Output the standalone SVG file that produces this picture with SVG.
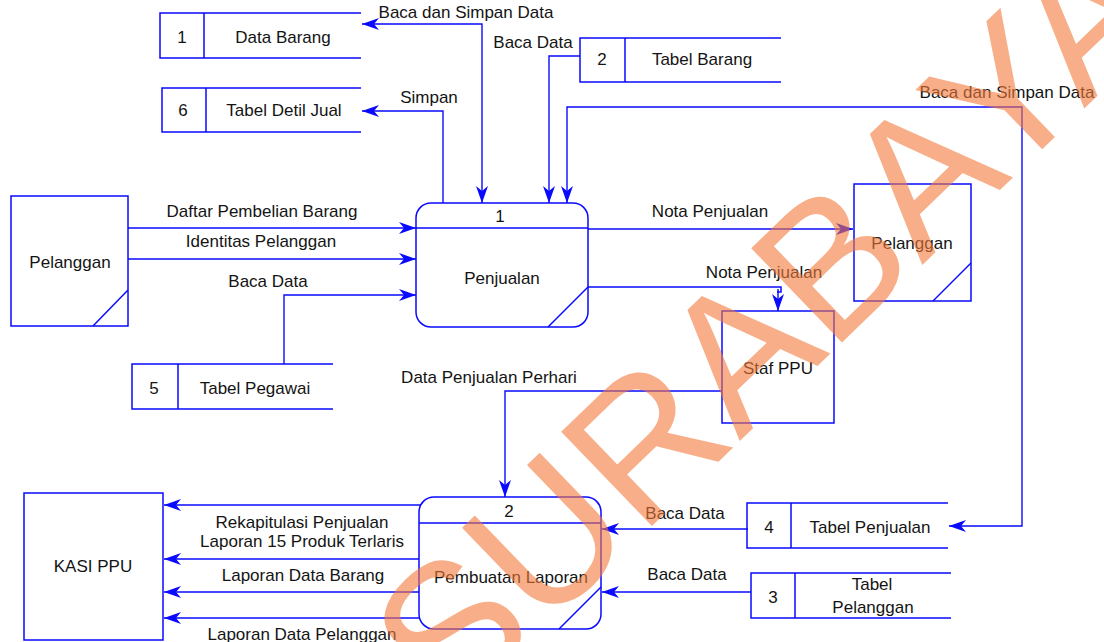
<svg xmlns="http://www.w3.org/2000/svg" width="1104" height="642" viewBox="0 0 1104 642">
  <style>
    .box { fill: #ffffff; stroke: #0a0aff; stroke-width: 1.5; }
    .edge { fill: none; stroke: #0a0aff; stroke-width: 1.5; }
    .flow { fill: none; stroke: #0a0aff; stroke-width: 1.4; marker-end: url(#arr); }
    .both { marker-start: url(#arrS); }
    text { font-family: "Liberation Sans", Arial, sans-serif; font-size: 17px; fill: #141414; }
    .mid { text-anchor: middle; }
    .wm { font-family: "Liberation Sans", Arial, sans-serif; font-size: 190px; fill: #f47a3a; }
  </style>
  <defs>
    <marker id="arr" markerUnits="userSpaceOnUse" markerWidth="20" markerHeight="14" viewBox="-17 -7 18 14" refX="0" refY="0" orient="auto">
      <path d="M0,0 L-17,-6 L-12,0 L-17,6 Z" fill="#0a0aff"/>
    </marker>
    <marker id="arrS" markerUnits="userSpaceOnUse" markerWidth="20" markerHeight="14" viewBox="-17 -7 18 14" refX="0" refY="0" orient="auto-start-reverse">
      <path d="M0,0 L-17,-6 L-12,0 L-17,6 Z" fill="#0a0aff"/>
    </marker>
  </defs>

  <rect width="1104" height="642" fill="#ffffff"/>

  <!-- data flows -->
  <g id="connectors">
    <path class="flow both" d="M482,203 V24 H362"/>
    <path class="flow" d="M443,203 V111 H362"/>
    <path class="flow" d="M580,56 H549 V203"/>
    <path class="flow both" d="M567,203 V107 H1022 V526 H949"/>
    <path class="flow" d="M128,228 H416"/>
    <path class="flow" d="M128,259 H416"/>
    <path class="flow" d="M284,364 V295 H416"/>
    <path class="flow" d="M588,229 H853"/>
    <path class="edge" d="M588,287 H781 V292 H777"/>
    <path class="flow" d="M778,289 V311"/>
    <path class="flow" d="M722,391 H505 V497"/>
    <path class="flow" d="M748,529 H602"/>
    <path class="flow" d="M751,592 H602"/>
    <path class="flow" d="M421,505 H164"/>
    <path class="flow" d="M419,559 H164"/>
    <path class="flow" d="M419,592 H164"/>
    <path class="flow" d="M420,618 H164"/>

    <text class="mid" x="466" y="18">Baca dan Simpan Data</text>
    <text class="mid" x="533" y="48">Baca Data</text>
    <text class="mid" x="429" y="103">Simpan</text>
    <text class="mid" x="1007" y="98">Baca dan Simpan Data</text>
    <text class="mid" x="262" y="217">Daftar Pembelian Barang</text>
    <text class="mid" x="261" y="247">Identitas Pelanggan</text>
    <text class="mid" x="268" y="287">Baca Data</text>
    <text class="mid" x="710" y="217">Nota Penjualan</text>
    <text class="mid" x="764" y="278">Nota Penjualan</text>
    <text class="mid" x="489" y="383">Data Penjualan Perhari</text>
    <text class="mid" x="685" y="519">Baca Data</text>
    <text class="mid" x="687" y="580">Baca Data</text>
    <text class="mid" x="302" y="528">Rekapitulasi Penjualan</text>
    <text class="mid" x="302" y="547">Laporan 15 Produk Terlaris</text>
    <text class="mid" x="303" y="581">Laporan Data Barang</text>
    <text class="mid" x="302" y="640">Laporan Data Pelanggan</text>
  </g>

  <!-- data stores -->
  <g id="store-1">
    <path class="edge" d="M361,13 H160 V58 H361 M204,13 V58"/>
    <text class="mid" x="182" y="43">1</text>
    <text class="mid" x="283" y="43">Data Barang</text>
  </g>
  <g id="store-6">
    <path class="edge" d="M361,88 H162 V132 H361 M206,88 V132"/>
    <text class="mid" x="183" y="116">6</text>
    <text class="mid" x="284" y="116">Tabel Detil Jual</text>
  </g>
  <g id="store-2">
    <path class="edge" d="M781,38 H580 V82 H781 M625,38 V82"/>
    <text class="mid" x="602" y="65">2</text>
    <text class="mid" x="702" y="65">Tabel Barang</text>
  </g>
  <g id="store-5">
    <path class="edge" d="M333,364 H132 V409 H333 M178,364 V409"/>
    <text class="mid" x="154" y="394">5</text>
    <text class="mid" x="255" y="394">Tabel Pegawai</text>
  </g>
  <g id="store-4">
    <path class="edge" d="M948,503 H747 V548 H948 M791,503 V548"/>
    <text class="mid" x="769" y="533">4</text>
    <text class="mid" x="870" y="533">Tabel Penjualan</text>
  </g>
  <g id="store-3">
    <path class="edge" d="M951,573 H751 V618 H951 M795,573 V618"/>
    <text class="mid" x="773" y="603">3</text>
    <text class="mid" x="872" y="590">Tabel</text>
    <text class="mid" x="873" y="613">Pelanggan</text>
  </g>

  <!-- external entities -->
  <g id="pelanggan-in">
    <rect class="box" x="11" y="196" width="117" height="130"/>
    <path class="edge" d="M93,326 L128,290"/>
    <text class="mid" x="70" y="268">Pelanggan</text>
  </g>
  <g id="pelanggan-out">
    <rect class="box" x="854" y="184" width="117" height="117"/>
    <path class="edge" d="M933,301 L971,263"/>
    <text class="mid" x="912" y="249">Pelanggan</text>
  </g>
  <g id="staf-ppu">
    <rect class="box" x="722" y="311" width="112" height="112"/>
    <text class="mid" x="778" y="374">Staf PPU</text>
  </g>
  <g id="kasi-ppu">
    <rect class="box" x="24" y="493" width="139" height="147"/>
    <text class="mid" x="93" y="572">KASI PPU</text>
  </g>

  <!-- processes -->
  <g id="proc-1">
    <rect class="box" x="416" y="203" width="172" height="124" rx="15"/>
    <path class="edge" d="M416,228 H588 M548,327 L588,287"/>
    <text class="mid" x="500" y="222">1</text>
    <text class="mid" x="502" y="284">Penjualan</text>
  </g>
  <g id="proc-2">
    <rect class="box" x="419" y="497" width="182" height="132" rx="15"/>
    <path class="edge" d="M419,523 H601 M559,629 L601,587"/>
    <text class="mid" x="509" y="517">2</text>
    <text class="mid" x="511" y="583">Pembuatan Laporan</text>
  </g>

  <!-- overlay stamp -->
  <g id="watermark" opacity="0.6">
    <text class="wm" transform="translate(451,720) rotate(-44)">SURABAYA</text>
  </g>
</svg>
